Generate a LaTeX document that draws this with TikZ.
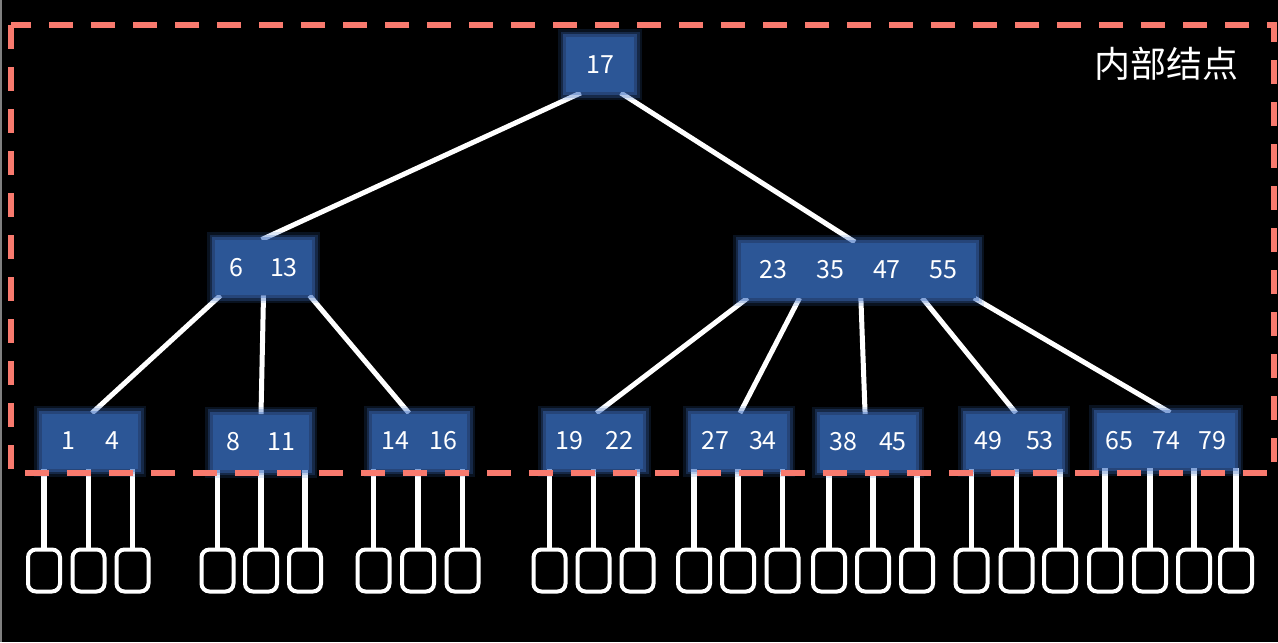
\documentclass[tikz,border=0pt]{standalone}
\usepackage{fontspec}
\setmainfont{Noto Sans CJK SC}
\usepackage{tikz}
\usetikzlibrary{calc,backgrounds}
\definecolor{keyblue}{RGB}{44,86,150}
\definecolor{glowblue}{RGB}{62,112,196}
\definecolor{salmon}{RGB}{248,122,110}

\begin{document}
\begin{tikzpicture}[x=0.5pt,y=-0.5pt,
  b/.style={fill=keyblue,text=white,inner sep=0pt,minimum height=27.5pt,font=\fontsize{12.5}{15}\selectfont,
    preaction={draw=glowblue,line width=8pt,opacity=0.16},
    preaction={draw=glowblue,line width=5.5pt,opacity=0.25},
    preaction={draw=glowblue,line width=3pt,opacity=0.4}},
  link/.style={draw=white,line width=2.5pt},
  ptr/.style={draw=white,line width=2.6pt},
  leaf/.style={draw=white,line width=2pt,rounded corners=4pt,minimum width=16pt,minimum height=21pt,inner sep=0pt}]
\useasboundingbox (0,0) rectangle (1278,642);
\begin{scope}[on background layer]
\fill[black] (0,0) rectangle (1278,642);
\fill[gray] (0,0) rectangle (2,642);
\end{scope}
% internal nodes
\node[b,minimum width=34pt] (root) at (600,65) {17};
\node[b,minimum width=48.5pt] (l) at (263.5,267.5) {6\hspace{13.5pt}13};
\node[b,minimum width=117.5pt] (r) at (858.5,270) {23\hspace{14.5pt}35\hspace{14.5pt}47\hspace{14.5pt}55};
\node[b,minimum width=48pt] (a) at (90,441) {1\hspace{15pt}4};
\node[b,minimum width=48pt] (b) at (261,442) {8\hspace{13.5pt}11};
\node[b,minimum width=47.5pt] (c) at (419.5,441) {14\hspace{10pt}16};
\node[b,minimum width=48.5pt] (d) at (594.5,441) {19\hspace{11pt}22};
\node[b,minimum width=48pt] (e) at (739,441) {27\hspace{10pt}34};
\node[b,minimum width=48pt] (f) at (868,442) {38\hspace{11pt}45};
\node[b,minimum width=48pt] (g) at (1014,441) {49\hspace{12pt}53};
\node[b,minimum width=69pt] (h) at (1166,440.5) {65\hspace{9.5pt}74\hspace{9.5pt}79};
\begin{scope}[on background layer]
\foreach \p/\f/\c/\g in {root/0.22/l/0.48,root/0.8/r/0.485,l/0.06/a/0.52,l/0.5/b/0.5,l/0.97/c/0.39,
  r/0.03/d/0.52,r/0.25/e/0.51,r/0.51/f/0.47,r/0.77/g/0.52,r/0.99/h/0.53}
  \draw[link] ($(\p.south west)!\f!(\p.south east)$) -- ($(\c.north west)!\g!(\c.north east)$);
\end{scope}
% external (leaf) nodes
\foreach \n/\xs in {a/{44,88.5,132.5},b/{217.5,261,305},c/{373.5,418,462.5},d/{549.5,593.5,637.5},
  e/{694,738,782.5},f/{829,873,917},g/{971.5,1016.5,1060},h/{1105,1150,1194,1236}}
  \foreach \x [count=\i] in \xs {
    \node[leaf] (\n\i) at (\x,570.5) {};
    \begin{scope}[on background layer]
    \draw[ptr] (\n\i.north) -- (\n\i.north |- \n.south);
    \end{scope}
  }
\draw[salmon,line width=3pt,dash pattern=on 12pt off 9pt] (11,25) rectangle (1274,473);
\node[text=white,font=\fontsize{18}{20}\selectfont] (lbl) at (1166,64) {内部结点};
\end{tikzpicture}
\end{document}
